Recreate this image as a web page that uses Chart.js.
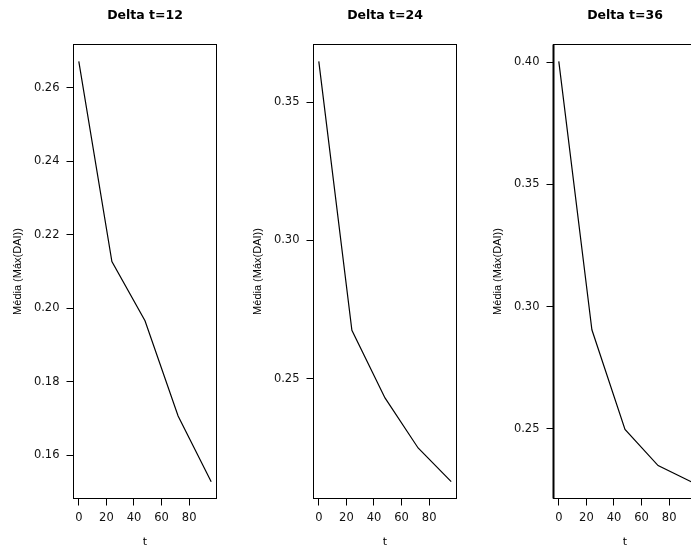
<!DOCTYPE html>
<html>
<head>
<meta charset="utf-8">
<script src="https://cdn.jsdelivr.net/npm/chart.js@4.4.1/dist/chart.umd.min.js"></script>
<style>
    html, body { margin: 0; padding: 0; background: #fff; overflow: hidden; width: 691px; height: 547px; }
    .panel { position: absolute; top: 0; width: 240px; height: 547px; }
</style>
</head>
<body>
<div class="panel" style="left:0px"><canvas id="chart12" width="240" height="547"></canvas></div>
<div class="panel" style="left:240px"><canvas id="chart24" width="240" height="547"></canvas></div>
<div class="panel" style="left:480px"><canvas id="chart36" width="240" height="547"></canvas></div>
<script>
// ------------------------------------------------------------------
// Data
// ------------------------------------------------------------------
const t_values = [0, 24, 48, 72, 96];
const media_dt12 = [0.2672, 0.2127, 0.1966, 0.1707, 0.1528];
const media_dt24 = [0.3648, 0.2675, 0.2430, 0.2249, 0.2127];
const media_dt36 = [0.4004, 0.2905, 0.2497, 0.2349, 0.2283];

const x_ticks = [0, 20, 40, 60, 80];
const y_ticks_dt12 = [0.16, 0.18, 0.20, 0.22, 0.24, 0.26];
const y_ticks_dt24 = [0.25, 0.30, 0.35];
const y_ticks_dt36 = [0.25, 0.30, 0.35, 0.40];

const panel_titles = ['Delta t=12', 'Delta t=24', 'Delta t=36'];
const x_label = 't';
const y_label = 'Média (Máx(DAI))';

// ------------------------------------------------------------------
// Helpers
// ------------------------------------------------------------------

// R-style axis range: data range widened by 4% on each side
function r_range(values) {
    const lo = Math.min(...values);
    const hi = Math.max(...values);
    const pad = (hi - lo) * 0.04;
    return [lo - pad, hi + pad];
}

// full box around the plot region + bold title above it
const box_plugin = {
    id: 'rbox',
    afterDatasetsDraw(chart, args, opts) {
        const { ctx, chartArea: a } = chart;
        ctx.save();
        ctx.strokeStyle = '#000';
        ctx.lineWidth = 1;
        ctx.strokeRect(a.left, a.top, a.right - a.left, a.bottom - a.top);
        if (opts.leftWidth > 1) {
            ctx.lineWidth = opts.leftWidth;
            ctx.beginPath();
            ctx.moveTo(a.left, a.top);
            ctx.lineTo(a.left, a.bottom);
            ctx.stroke();
        }
        ctx.font = 'bold 12.5px "DejaVu Sans"';
        ctx.textAlign = 'center';
        ctx.textBaseline = 'middle';
        ctx.fillStyle = '#000';
        ctx.fillText(opts.text, (a.left + a.right) / 2, 15.5);
        ctx.restore();
    }
};

function create_panel(canvas_id, title, values, y_ticks, left_width) {
    const [y_min, y_max] = r_range(values);
    const [x_min, x_max] = r_range(t_values);

    new Chart(document.getElementById(canvas_id), {
        type: 'line',
        data: {
            datasets: [{
                data: t_values.map((t, i) => ({ x: t, y: values[i] })),
                borderColor: '#000',
                borderWidth: 1.2,
                pointRadius: 0,
                tension: 0,
                fill: false,
            }],
        },
        options: {
            responsive: false,
            animation: false,
            devicePixelRatio: 1,
            layout: { padding: { left: 0, right: 23.5, top: 44.5, bottom: 0 } },
            scales: {
                x: {
                    type: 'linear',
                    min: x_min,
                    max: x_max,
                    afterBuildTicks: s => { s.ticks = x_ticks.map(v => ({ value: v })); },
                    afterFit: s => { s.height = 48.5; },
                    border: { display: false },
                    grid: { drawOnChartArea: false, drawTicks: true, tickLength: 7, color: '#000' },
                    ticks: {
                        color: '#111',
                        padding: 6,
                        maxRotation: 0,
                        autoSkip: false,
                        font: { family: 'DejaVu Sans', size: 11.5 },
                        callback: v => String(v),
                    },
                    title: {
                        display: true,
                        text: x_label,
                        color: '#000',
                        padding: { top: 0, bottom: 0 },
                        font: { family: 'DejaVu Sans', size: 11, lineHeight: 0.9 },
                    },
                },
                y: {
                    min: y_min,
                    max: y_max,
                    afterBuildTicks: s => { s.ticks = y_ticks.map(v => ({ value: v })); },
                    afterFit: s => { s.width = 73.5; },
                    border: { display: false },
                    grid: { drawOnChartArea: false, drawTicks: true, tickLength: 7, color: '#000' },
                    ticks: {
                        color: '#111',
                        padding: 7,
                        autoSkip: false,
                        font: { family: 'DejaVu Sans', size: 11.5 },
                        callback: v => v.toFixed(2),
                    },
                    title: {
                        display: true,
                        text: y_label,
                        color: '#000',
                        padding: { top: 11.4, bottom: 0 },
                        font: { family: 'Liberation Sans', size: 11 },
                    },
                },
            },
            plugins: {
                legend: { display: false },
                tooltip: { enabled: false },
                title: { display: false },
                rbox: { text: title, leftWidth: left_width },
            },
        },
        plugins: [box_plugin],
    });
}

create_panel('chart12', panel_titles[0], media_dt12, y_ticks_dt12, 1);
create_panel('chart24', panel_titles[1], media_dt24, y_ticks_dt24, 1);
create_panel('chart36', panel_titles[2], media_dt36, y_ticks_dt36, 2);
</script>
</body>
</html>
